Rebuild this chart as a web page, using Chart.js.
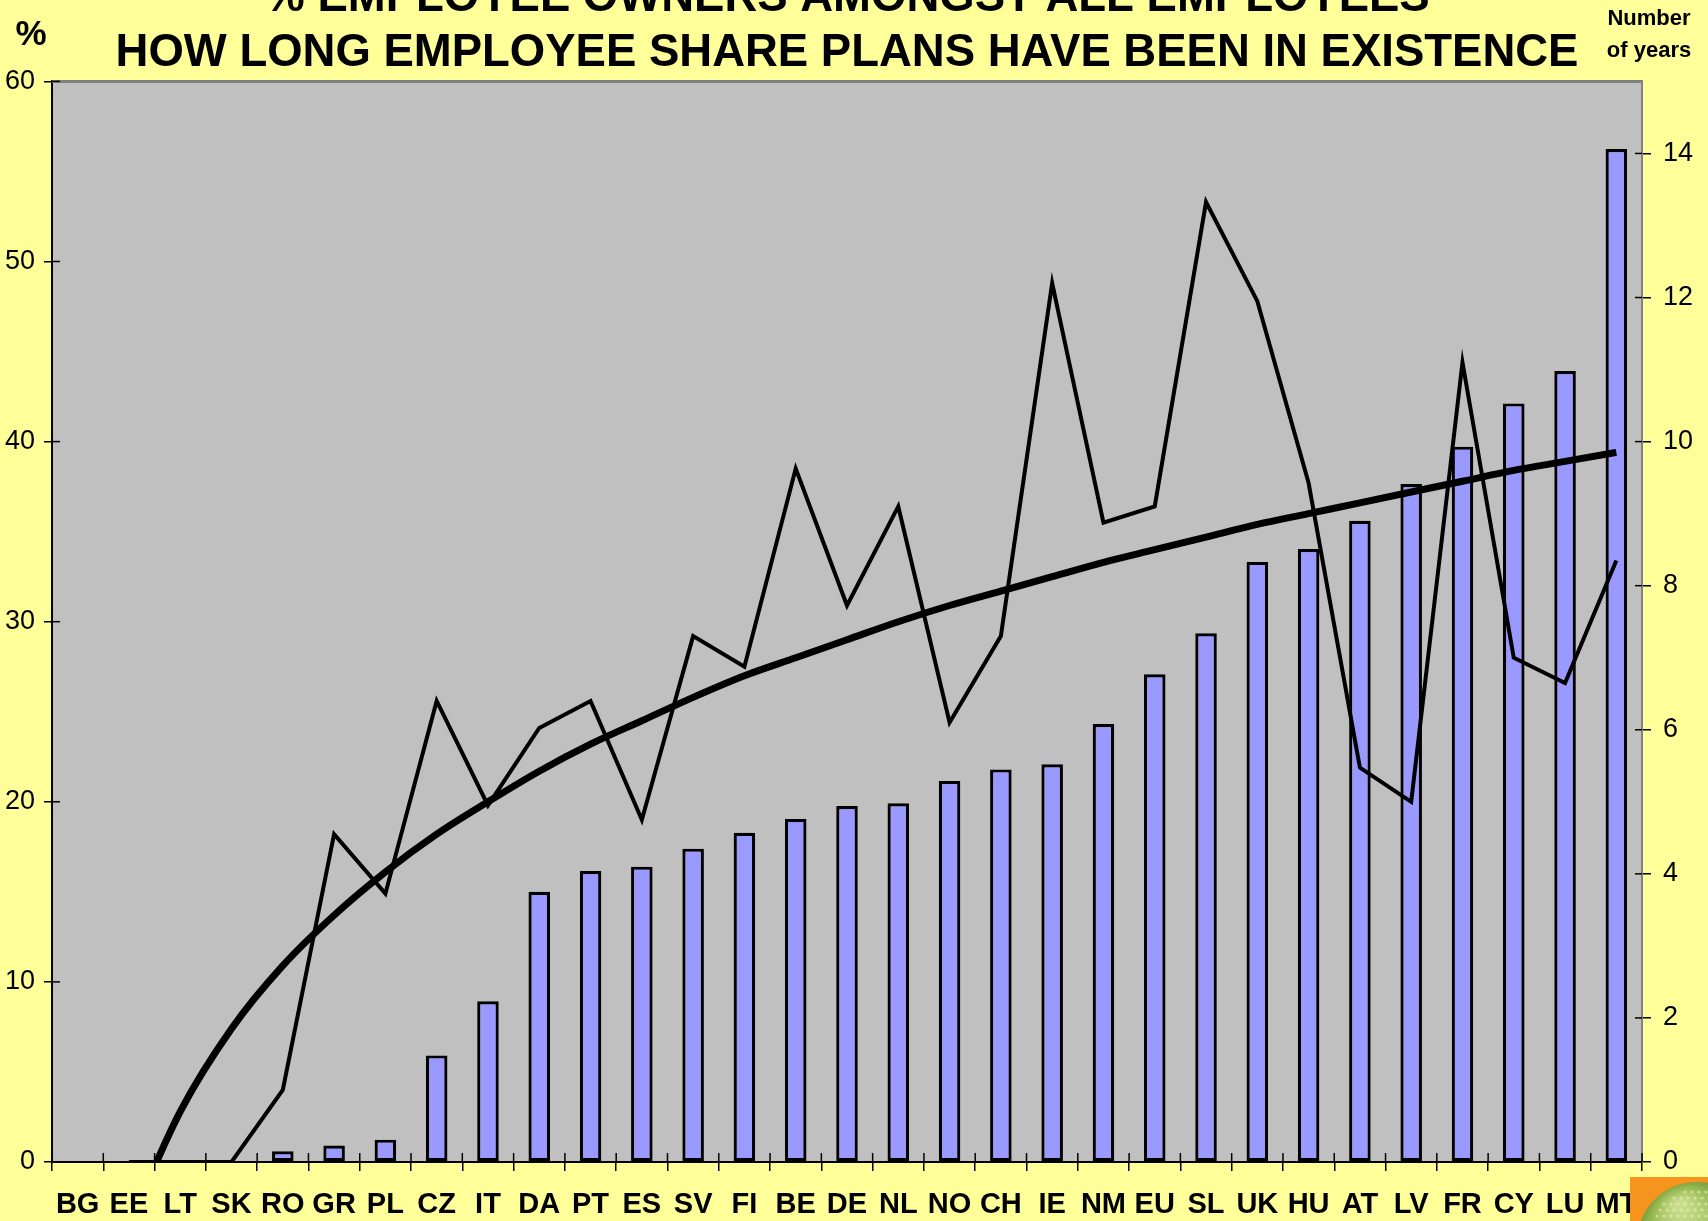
<!DOCTYPE html>
<html>
<head>
<meta charset="utf-8">
<title>Employee owners and share plans</title>
<script src="https://cdn.jsdelivr.net/npm/chart.js@4.4.0/dist/chart.umd.min.js"></script>
<style>
  html, body { margin: 0; padding: 0; background: #FFFF99; overflow: hidden; }
  #wrap { position: relative; width: 1708px; height: 1221px; }
</style>
</head>
<body>
<div id="wrap"><canvas id="chart" width="1708" height="1221"></canvas></div>
<script>
// Countries, sorted by how long share plans have existed
const countries = ['BG', 'EE', 'LT', 'SK', 'RO', 'GR', 'PL', 'CZ', 'IT', 'DA', 'PT', 'ES', 'SV', 'FI', 'BE',
    'DE', 'NL', 'NO', 'CH', 'IE', 'NM', 'EU', 'SL', 'UK', 'HU', 'AT', 'LV', 'FR', 'CY', 'LU', 'MT'];

// Number of years employee share plans have been in existence (bars, right axis)
const planYears = [0, 0, 0, 0, 0.15, 0.23, 0.31, 1.48, 2.23, 3.75, 4.04, 4.1, 4.35, 4.57, 4.76,
    4.94, 4.98, 5.29, 5.45, 5.52, 6.08, 6.77, 7.34, 8.33, 8.51, 8.9, 9.41, 9.93, 10.53, 10.98, 14.06];

// % employee owners amongst all employees (thin line, left axis)
const ownersPct = [null, 0, 0, 0, 4.0, 18.2, 14.9, 25.6, 19.8, 24.1, 25.6, 19.0, 29.2, 27.5, 38.5,
    30.9, 36.4, 24.4, 29.2, 48.8, 35.5, 36.4, 53.3, 47.8, 37.7, 21.9, 20.0, 44.4, 28.0, 26.6, 33.4];

// Trend curve of the % line
const ownersTrend = [null, -3.5, 2.8, 7.4, 10.9, 13.7, 16.1, 18.2, 20.0, 21.7, 23.2, 24.5, 25.8, 27.0, 28.0,
    29.0, 30.0, 30.9, 31.7, 32.5, 33.3, 34.0, 34.7, 35.4, 36.0, 36.6, 37.2, 37.8, 38.4, 38.9, 39.4];

// Axis tick labels
const pctTicks = [0, 10, 20, 30, 40, 50, 60];
const yearTicks = [0, 2, 4, 6, 8, 10, 12, 14];

const titleLines = ['% EMPLOYEE OWNERS AMONGST ALL EMPLOYEES', 'HOW LONG EMPLOYEE SHARE PLANS HAVE BEEN IN EXISTENCE'];

Chart.defaults.font.family = "'Liberation Sans', Arial, sans-serif";
Chart.defaults.color = '#000';

// Grey plot area on the yellow page
const plotBackground = {
    id: 'plotBackground',
    beforeDraw(chart) {
        const { ctx, chartArea: a } = chart;
        ctx.save();
        ctx.fillStyle = '#FFFF99';
        ctx.fillRect(0, 0, chart.width, chart.height);
        ctx.fillStyle = '#C0C0C0';
        ctx.fillRect(a.left, a.top, a.right - a.left, a.bottom - a.top);
        ctx.restore();
    }
};

// Top frame line and the inner half of the cross tick marks
const plotFrame = {
    id: 'plotFrame',
    beforeDatasetsDraw(chart) {
        const { ctx, chartArea: a, scales } = chart;
        const seg = (x1, y1, x2, y2) => {
            ctx.beginPath();
            ctx.moveTo(x1, y1);
            ctx.lineTo(x2, y2);
            ctx.stroke();
        };
        ctx.save();
        ctx.strokeStyle = '#808080';
        ctx.lineWidth = 3;
        seg(a.left, a.top, a.right + 1, a.top);
        ctx.strokeStyle = '#000';
        ctx.lineWidth = 1.5;
        scales.y.ticks.forEach(t => {
            const py = scales.y.getPixelForValue(t.value);
            seg(a.left, py, a.left + 8, py);
        });
        scales.y1.ticks.forEach(t => {
            const py = scales.y1.getPixelForValue(t.value);
            seg(a.right - 7, py, a.right, py);
        });
        for (let i = 0; i <= countries.length; i++) {
            const px = scales.x.getPixelForValue(i - 0.5);
            seg(px, a.bottom - 9, px, a.bottom);
        }
        ctx.restore();
    }
};

// Axis headings above the axes and the small picture in the corner
const headings = {
    id: 'headings',
    afterDraw(chart) {
        const { ctx } = chart;
        ctx.save();
        ctx.fillStyle = '#000';
        ctx.textAlign = 'center';
        ctx.textBaseline = 'alphabetic';
        ctx.font = "bold 35px 'Liberation Sans', Arial";
        ctx.fillText('%', 31, 45);
        ctx.font = "bold 22px 'Liberation Sans', Arial";
        ctx.fillText('Number', 1649, 25);
        ctx.fillText('of years', 1649, 57);

        // corner picture: orange tile with a green round shrub
        ctx.fillStyle = '#F7941D';
        ctx.fillRect(1630, 1177, 78, 44);
        ctx.beginPath();
        ctx.rect(1630, 1177, 78, 44);
        ctx.clip();
        const g = ctx.createRadialGradient(1680, 1205, 5, 1695, 1240, 62);
        g.addColorStop(0, '#C9DC8C');
        g.addColorStop(0.6, '#93B650');
        g.addColorStop(1, '#6A9134');
        ctx.fillStyle = g;
        ctx.beginPath();
        ctx.arc(1697, 1242, 60, 0, Math.PI * 2);
        ctx.fill();
        ctx.fillStyle = 'rgba(235,245,190,0.55)';
        for (let px = 1648; px < 1708; px += 7) {
            for (let py = 1186; py < 1221; py += 6) {
                const dx = px - 1697, dy = py - 1242;
                if (dx * dx + dy * dy < 54 * 54) {
                    ctx.beginPath();
                    ctx.arc(px + ((py / 6) % 2) * 3, py, 1.6, 0, Math.PI * 2);
                    ctx.fill();
                }
            }
        }
        ctx.restore();
    }
};

new Chart(document.getElementById('chart'), {
    type: 'bar',
    data: {
        labels: countries,
        datasets: [
            {
                type: 'line',
                label: '% employee owners',
                data: ownersPct,
                yAxisID: 'y',
                borderColor: '#000',
                borderWidth: 4,
                borderJoinStyle: 'miter',
                pointRadius: 0,
                tension: 0,
                order: 0
            },
            {
                type: 'line',
                label: 'Trend',
                data: ownersTrend,
                yAxisID: 'y',
                borderColor: '#000',
                borderWidth: 7,
                pointRadius: 0,
                cubicInterpolationMode: 'monotone',
                order: 1
            },
            {
                type: 'bar',
                label: 'Number of years',
                data: planYears,
                yAxisID: 'y1',
                backgroundColor: '#9999FF',
                borderColor: '#000',
                borderWidth: 3.2,
                borderSkipped: false,
                barPercentage: 0.42,
                categoryPercentage: 1,
                order: 2
            }
        ]
    },
    options: {
        responsive: false,
        animation: false,
        layout: { padding: { left: 0, right: 14, top: 0, bottom: 0 } },
        plugins: {
            legend: { display: false },
            tooltip: { enabled: false },
            title: {
                display: true,
                text: titleLines,
                color: '#000',
                font: { size: 45.5, weight: 'bold', lineHeight: 1.2 },
                padding: { top: -28.7, bottom: 0.9 }
            }
        },
        scales: {
            x: {
                grid: { drawOnChartArea: false, tickLength: 9, tickColor: '#000', lineWidth: 1.5 },
                border: { color: '#000', width: 2 },
                ticks: {
                    autoSkip: false,
                    maxRotation: 0,
                    padding: 17,
                    color: '#000',
                    font: { size: 29, weight: 'bold' }
                },
                afterFit: (scale) => { scale.height = 59; }
            },
            y: {
                position: 'left',
                min: 0,
                max: 60,
                afterBuildTicks: (scale) => { scale.ticks = pctTicks.map(v => ({ value: v })); },
                grid: { drawOnChartArea: false, tickLength: 8, tickColor: '#000', lineWidth: 1.5 },
                border: { color: '#000', width: 2 },
                ticks: { padding: 9, color: '#000', font: { size: 27 } },
                afterFit: (scale) => { scale.width = 52; }
            },
            y1: {
                position: 'right',
                min: 0,
                max: 15,
                afterBuildTicks: (scale) => { scale.ticks = yearTicks.map(v => ({ value: v })); },
                grid: { drawOnChartArea: false, tickLength: 9, tickColor: '#000', lineWidth: 1.5 },
                border: { color: '#808080', width: 2 },
                ticks: { padding: 12, color: '#000', font: { size: 27 } },
                afterFit: (scale) => { scale.width = 52; }
            }
        }
    },
    plugins: [plotBackground, plotFrame, headings]
});
</script>
</body>
</html>
